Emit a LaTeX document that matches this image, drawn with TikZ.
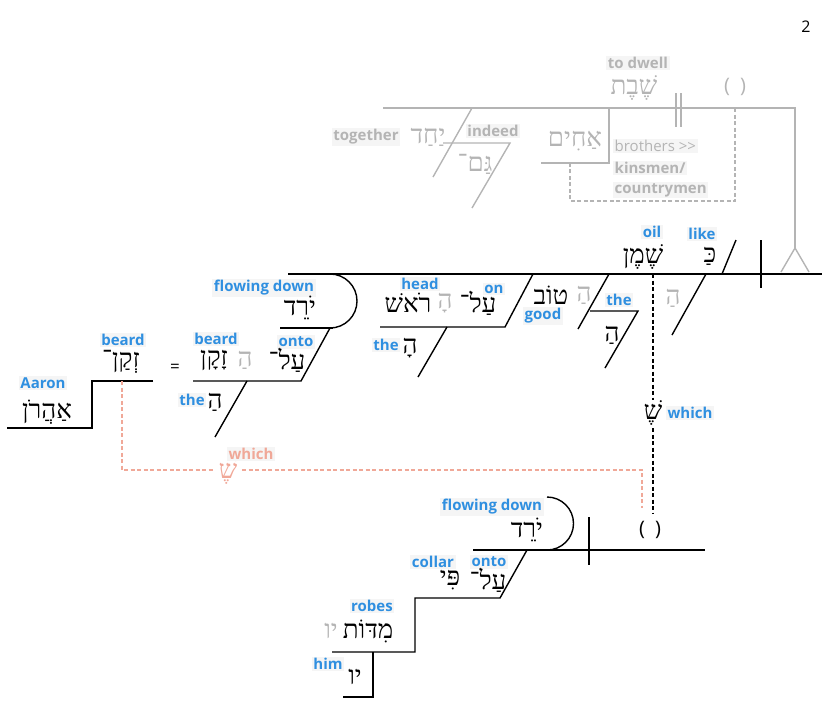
\documentclass[tikz,border=0pt]{standalone}
\usepackage{fontspec}
\setmainfont{Open Sans}
\newfontfamily\hebf[Script=Hebrew]{Liberation Serif}
\TeXXeTstate=1
\newcommand{\hw}[1]{{\hebf\beginR #1\endR}}
\definecolor{lblue}{HTML}{2F8FE0}
\definecolor{lgray}{HTML}{B4B4B4}
\definecolor{lpink}{HTML}{F0A898}
\begin{document}
\begin{tikzpicture}[x=1pt,y=-1pt,
  ln/.style={line width=1.4pt,black},
  gl/.style={line width=1.4pt,lgray},
  dsh/.style={dash pattern=on 4pt off 2.5pt,line width=1.1pt},
  he/.style={inner sep=0pt,font=\fontsize{26}{26}\selectfont},
  heg/.style={he,text=lgray},
  lb/.style={inner sep=1.5pt,fill=black!4,text=lblue,font=\fontsize{15}{15}\selectfont\bfseries},
  lg/.style={inner sep=1.5pt,fill=black!4,text=lgray,font=\fontsize{15}{15}\selectfont\bfseries},
  lgr/.style={inner sep=1.5pt,fill=black!4,text=lgray,font=\fontsize{15}{15}\selectfont},
  lp/.style={inner sep=1.5pt,fill=black!4,text=lpink,font=\fontsize{15}{15}\selectfont\bfseries}]
\useasboundingbox (0,0) rectangle (825,724);
\node[font=\fontsize{16}{16}\selectfont] (pg) at (806,27) {2};
% ---------- top gray clause
\coordinate (t1) at (383,108); \coordinate (t2) at (795,108);
\coordinate (fk) at (795,248);
\draw[gl] (t1) -- (t2) -- (fk);
\coordinate (fl) at (781,272); \coordinate (fr) at (809,272);
\draw[gl] (fl) -- (fk) -- (fr);
\node[lg] (todwell) at (638,63) {to dwell};
\node[heg] (shevet) at (634,88) {\hw{שֶׁבֶת}};
\draw[gl] (676,93) -- (676,127) (681,93) -- (681,127);
\node[text=lgray,font=\fontsize{20}{20}\selectfont] (par1) at (735,87) {(\hspace{10pt})};
\draw[gl,dsh] (735,108) -- (735,201) -- (570,201) -- (570,163);
\draw[gl] (541,163) -- (609,163) -- (609,108);
\node[heg] (ahim) at (575,141) {\hw{אַחִים}};
\node[lgr,anchor=west] (bro) at (613,146) {brothers {>}{>}};
\node[lg,anchor=west] (kin) at (613,168) {kinsmen/};
\node[lg,anchor=west] (cou) at (613,190) {countrymen};
\draw[gl] (472,108) -- (433,177);
\node[lg] (indeed) at (493,131) {indeed};
\draw[gl] (443,143) -- (510,143) -- (472,208);
\node[heg] (gam) at (475,164) {\hw{גַּם־}};
\node[heg] (yahad) at (428,137) {\hw{יַחַד}};
\node[lg] (together) at (366,137) {together};
% ---------- main black line
\draw[ln] (288,274) -- (822,274);
\draw[ln] (761,240) -- (761,288);
\draw[ln] (736,240) -- (722,274);
\node[lb] (like) at (702,234) {like};
\node[he] (ka) at (710,256) {\hw{כַּ}};
\node[lb] (oil) at (652,232) {oil};
\node[he] (shemen) at (643,257) {\hw{שֶׁמֶן}};
\draw[ln] (706,274) -- (672,335);
\node[heg] (ha1) at (673,298) {\hw{הַ}};
\draw[ln,dsh] (653,274) -- (653,400) (653,428) -- (653,513);
\node[he] (she) at (653,413) {\hw{שֶׁ}};
\node[lb] (which) at (690,413) {which};
% tov
\draw[ln] (609,274) -- (578,329);
\node[he] (tov) at (551,295) {\hw{טוֹב}};
\node[heg] (ha2) at (584,295) {\hw{הַ}};
\node[lb] (good) at (543,316) {good};
\draw[ln] (590,311) -- (638,311) -- (605,368);
\node[lb] (the1) at (619,300) {the};
\node[he] (ha3) at (612,335) {\hw{הַ}};
% head
\draw[ln] (533,274) -- (505,327) -- (380,327);
\draw[ln] (447,327) -- (418,377);
\node[lb] (head) at (420,284) {head};
\node[lb] (on) at (494,289) {on};
\node[he] (rosh) at (408,303) {\hw{רֹאשׁ}};
\node[heg] (ha4) at (445,303) {\hw{הָ}};
\node[he] (al1) at (478,303) {\hw{עַל־}};
\node[lb] (the2) at (386,345) {the};
\node[he] (ha5) at (410,348) {\hw{הָ}};
% yrd curve
\draw[ln] (330,274) arc[start angle=-90,end angle=90,radius=27];
\draw[ln] (280,328) -- (333,328);
\node[lb] (flow1) at (264,288) {flowing down};
\node[he] (yored1) at (300,308) {\hw{יֹרֵד}};
\draw[ln] (330,328) -- (301,381) -- (193,381);
\draw[ln] (247,381) -- (215,437);
\node[lb] (beard2) at (216,339) {beard};
\node[lb] (onto1) at (296,342) {onto};
\node[he] (zaqan) at (214,360) {\hw{זָקָן}};
\node[heg] (ha6) at (245,360) {\hw{הַ}};
\node[he] (al2) at (287,360) {\hw{עַל־}};
\node[lb] (the3) at (192,400) {the};
\node[he] (ha7) at (215,402) {\hw{הַ}};
\node[font=\fontsize{17}{17}\selectfont] (eq) at (175,368) {=};
% aaron
\draw[ln] (153,381) -- (92,381) -- (92,428) -- (7,428);
\node[lb] (beard1) at (123,340) {beard};
\node[he] (zeqan) at (121,362) {\hw{זְקַן־}};
\node[lb] (aaron) at (43,383) {Aaron};
\node[he] (ahar) at (47,412) {\hw{אַהֲרֹן}};
% pink relative link
\draw[lpink,dsh] (122,381) -- (122,470) -- (214,470) (242,470) -- (642,470) -- (642,508);
\node[he,text=lpink] (she2) at (228,472) {\hw{שֶׁ}};
\node[lp] (which2) at (251,454) {which};
% ---------- bottom clause
\draw[ln] (473,550) -- (705,550);
\draw[ln] (589,517) -- (589,565);
\node[font=\fontsize{20}{20}\selectfont] (par2) at (650,530) {(\hspace{10pt})};
\draw[ln] (547,497) arc[start angle=-90,end angle=90,radius=26.5];
\node[lb] (flow2) at (492,507) {flowing down};
\node[he] (yored2) at (527,530) {\hw{יֹרֵד}};
\draw[ln] (527,550) -- (500,598) -- (415,598) -- (415,652) -- (332,652);
\draw[ln] (373,652) -- (373,697) -- (343,697);
\node[lb] (collar) at (433,562) {collar};
\node[lb] (onto2) at (489,562) {onto};
\node[he] (pi) at (450,580) {\hw{פִּי}};
\node[he] (al3) at (488,580) {\hw{עַל־}};
\node[lb] (robes) at (372,606) {robes};
\node[he] (middot) at (368,631) {\hw{מִדּוֹת}};
\node[heg] (yo1) at (331,631) {\hw{יו}};
\node[lb] (him) at (328,664) {him};
\node[he] (yo2) at (355,677) {\hw{יו}};
\end{tikzpicture}
\end{document}
